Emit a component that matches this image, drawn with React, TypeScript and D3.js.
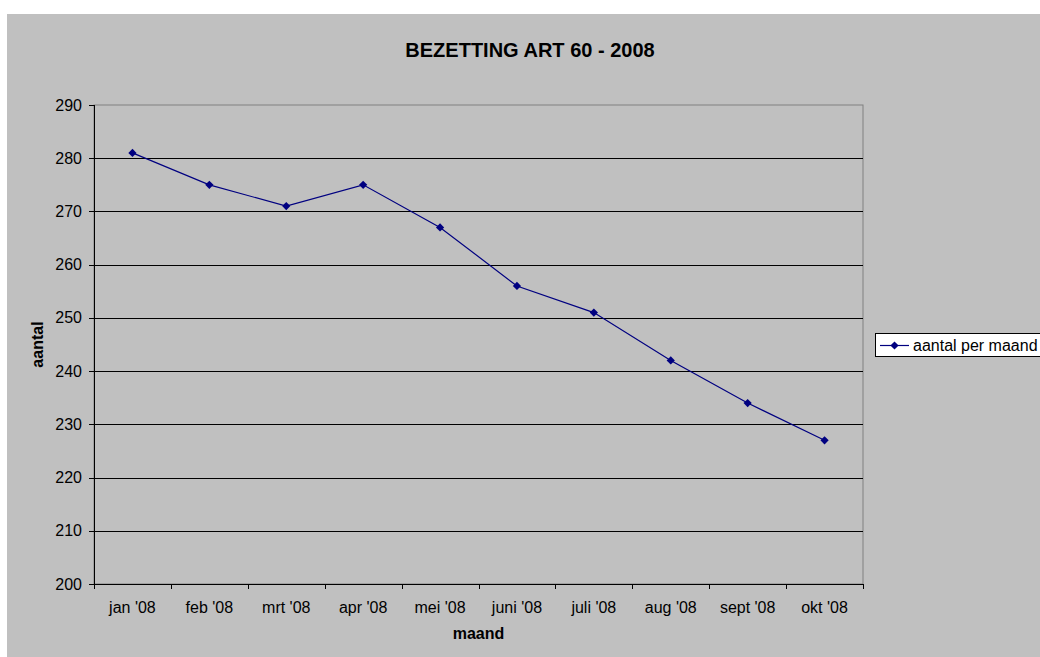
import { scaleBand, scaleLinear, line, symbol, symbolSquare } from "d3";

const months = [
  "jan '08",
  "feb '08",
  "mrt '08",
  "apr '08",
  "mei '08",
  "juni '08",
  "juli '08",
  "aug '08",
  "sept '08",
  "okt '08",
];

const aantal = [281, 275, 271, 275, 267, 256, 251, 242, 234, 227];

const yTicks = [200, 210, 220, 230, 240, 250, 260, 270, 280, 290];

const seriesName = "aantal per maand";
const title = "BEZETTING ART 60 - 2008";

const width = 1040;
const height = 657;
const plot = { left: 94, right: 863, top: 105, bottom: 584 };
const font = "Liberation Sans, Arial, sans-serif";

export default function App() {
  const xScale = scaleBand()
    .domain(months)
    .range([plot.left, plot.right]);

  const yScale = scaleLinear()
    .domain([200, 290])
    .range([plot.bottom, plot.top]);

  const cx = (m: string) => (xScale(m) ?? 0) + xScale.bandwidth() / 2;

  const path = line<number>()
    .x((_, i) => cx(months[i]))
    .y((d) => yScale(d))(aantal);

  // square turned 45 degrees = Excel diamond marker
  const diamond = symbol().type(symbolSquare).size(34)();

  return (
    <svg
      width={width}
      height={height}
      style={{ position: "absolute", left: 0, top: 0, display: "block" }}
    >
      <rect x={0} y={0} width={width} height={height} fill="#ffffff" />
      <rect x={7} y={14} width={width - 7} height={height - 14} fill="#c0c0c0" />

      <text
        x={530}
        y={57}
        textAnchor="middle"
        fontFamily={font}
        fontWeight="bold"
        fontSize={20}
        fill="#000"
      >
        {title}
      </text>

      {/* plot border */}
      <rect
        x={plot.left}
        y={plot.top}
        width={plot.right - plot.left}
        height={plot.bottom - plot.top}
        fill="#c0c0c0"
        stroke="#808080"
        strokeWidth={1}
      />

      {yTicks.map((t) => (
        <g key={t}>
          {t !== 200 && t !== 290 && (
            <line
              x1={plot.left}
              x2={plot.right}
              y1={Math.round(yScale(t)) + 0.5}
              y2={Math.round(yScale(t)) + 0.5}
              stroke="#000"
            />
          )}
          <line
            x1={plot.left - 5}
            x2={plot.left}
            y1={Math.round(yScale(t)) + 0.5}
            y2={Math.round(yScale(t)) + 0.5}
            stroke="#000"
          />
          <text
            x={82}
            y={yScale(t)}
            dy="0.35em"
            textAnchor="end"
            fontFamily={font}
            fontSize={16}
            fill="#000"
          >
            {t}
          </text>
        </g>
      ))}

      {/* axes */}
      <line
        x1={plot.left + 0.5}
        x2={plot.left + 0.5}
        y1={plot.top}
        y2={plot.bottom}
        stroke="#000"
      />
      <line
        x1={plot.left}
        x2={plot.right}
        y1={plot.bottom + 0.5}
        y2={plot.bottom + 0.5}
        stroke="#000"
      />

      {months.map((m, i) => (
        <g key={m}>
          <line
            x1={Math.round(xScale(m) ?? 0) + 0.5}
            x2={Math.round(xScale(m) ?? 0) + 0.5}
            y1={plot.bottom}
            y2={plot.bottom + 5}
            stroke="#000"
          />
          {i === months.length - 1 && (
            <line
              x1={plot.right + 0.5}
              x2={plot.right + 0.5}
              y1={plot.bottom}
              y2={plot.bottom + 5}
              stroke="#000"
            />
          )}
          <text
            x={cx(m)}
            y={613}
            textAnchor="middle"
            fontFamily={font}
            fontSize={16}
            fill="#000"
          >
            {m}
          </text>
        </g>
      ))}

      <text
        x={(plot.left + plot.right) / 2}
        y={639}
        textAnchor="middle"
        fontFamily={font}
        fontWeight="bold"
        fontSize={16}
        fill="#000"
      >
        maand
      </text>
      <text
        transform={`translate(43, ${(plot.top + plot.bottom) / 2}) rotate(-90)`}
        textAnchor="middle"
        fontFamily={font}
        fontWeight="bold"
        fontSize={16}
        fill="#000"
      >
        aantal
      </text>

      <path d={path ?? ""} fill="none" stroke="#000080" strokeWidth={1.2} />
      {aantal.map((d, i) => (
        <path
          key={i}
          d={diamond ?? ""}
          transform={`translate(${cx(months[i])}, ${yScale(d)}) rotate(45)`}
          fill="#000080"
        />
      ))}

      {/* legend */}
      <rect x={875.5} y={333.5} width={170} height={23} fill="#ffffff" stroke="#000" />
      <line x1={880} x2={909} y1={345.5} y2={345.5} stroke="#000080" strokeWidth={1.2} />
      <path d={diamond ?? ""} transform="translate(894.5, 345.5) rotate(45)" fill="#000080" />
      <text x={913} y={345.5} dy="0.35em" fontFamily={font} fontSize={16} fill="#000">
        {seriesName}
      </text>
    </svg>
  );
}
